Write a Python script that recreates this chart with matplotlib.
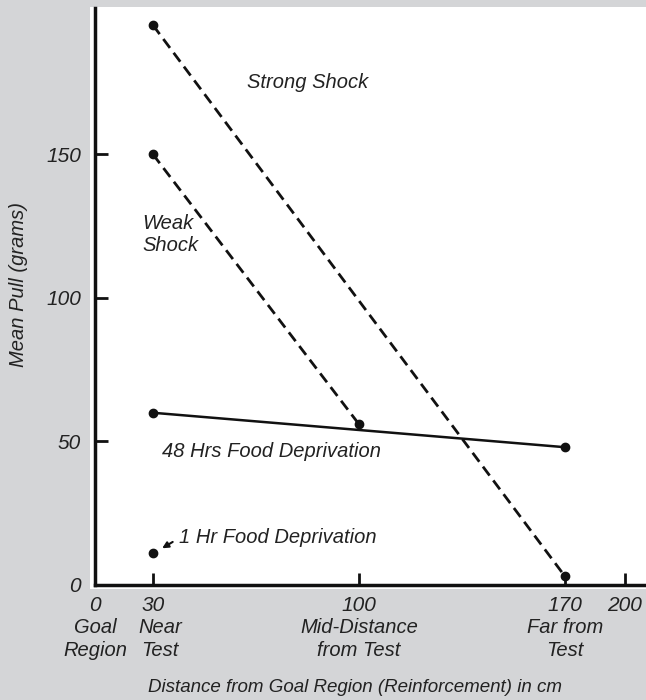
import numpy as np
import matplotlib
matplotlib.use("Agg")
import matplotlib.pyplot as plt
from matplotlib.patches import Rectangle

# data
strong_x = [30, 170]
strong_y = [195, 3]
weak_x = [30, 100]
weak_y = [150, 56]
food48_x = [30, 170]
food48_y = [60, 48]
food1_x = [30]
food1_y = [11]

xticks = [0, 30, 100, 170, 200]
yticks = [0, 50, 100, 150]
region_names = ["Goal\nRegion", "Near\nTest", "Mid-Distance\nfrom Test", "Far from\nTest"]
region_x = [0, 32.5, 100, 170]

# the x axis is not drawn to scale: the ends are compressed
brk_in = [-30, 0, 30, 170, 200, 260]
brk_out = [-60, 0, 58, 470, 530, 650]
def fwd(x):
    return np.interp(x, brk_in, brk_out)
def inv(x):
    return np.interp(x, brk_out, brk_in)

plt.rcParams['font.family'] = ['Liberation Sans', 'DejaVu Sans']
plt.rcParams['font.style'] = 'italic'
fs = 14.5
txt_col = '#222222'

fig = plt.figure(figsize=(6.46, 7.0), dpi=100)
fig.patch.set_facecolor('#d4d5d7')
# white panel behind the chart
fig.patches.append(Rectangle((90 / 646, 1 - 589 / 700), 1 - 90 / 646, (589 - 7) / 700,
                             transform=fig.transFigure, facecolor='white', edgecolor='none', zorder=-5))

ax = fig.add_axes([95 / 646, 1 - 585 / 700, 1 - 95 / 646, (585 - 8) / 700])
ax.set_zorder(2)
ax.patch.set_alpha(0)
ax.set_xscale('function', functions=(fwd, inv))
ax.set_xlim(0, 210.5)
ax.set_ylim(0, 201)

ax.spines['top'].set_visible(False)
ax.spines['right'].set_visible(False)
for s in ['left', 'bottom']:
    ax.spines[s].set_linewidth(2.5)
    ax.spines[s].set_color('#111111')

ax.set_xticks(xticks)
ax.set_yticks(yticks)
ax.tick_params(direction='in', length=9, width=2, colors='#111111', labelsize=15,
               labelcolor=txt_col, pad=10)
ax.tick_params(axis='x', pad=8)
ax.minorticks_off()

ax.plot(strong_x, strong_y, color='#111111', lw=2, ls=(0, (4, 2.2)), marker='o', ms=6, clip_on=False)
ax.plot(weak_x, weak_y, color='#111111', lw=2, ls=(0, (4, 2.2)), marker='o', ms=6, clip_on=False)
ax.plot(food48_x, food48_y, color='#111111', lw=1.8, marker='o', ms=6, clip_on=False)
ax.plot(food1_x, food1_y, color='#111111', ls='none', marker='o', ms=6, clip_on=False)

ax.text(62, 175, "Strong Shock", fontsize=fs, color=txt_col, va='center')
ax.text(24.5, 122, "Weak\nShock", fontsize=fs, color=txt_col, va='center', linespacing=1.2)
ax.text(33, 46.5, "48 Hrs Food Deprivation", fontsize=fs, color=txt_col, va='center')
ax.text(39, 16.4, "1 Hr Food Deprivation", fontsize=fs, color=txt_col, va='center')
ax.annotate("", xy=(32.3, 12.3), xytext=(37.5, 15.5),
            arrowprops=dict(arrowstyle='-|>', color='#111111', lw=1.5, mutation_scale=9))

trans = ax.get_xaxis_transform()
for xv, name in zip(region_x, region_names):
    ax.text(xv, -0.094, name, transform=trans, fontsize=fs, color=txt_col,
            ha='center', va='center', linespacing=1.3, clip_on=False)

ax.set_xlabel("Distance from Goal Region (Reinforcement) in cm", fontsize=13.5, color=txt_col)
ax.xaxis.set_label_coords(0.471, -0.163)
ax.set_ylabel("Mean Pull (grams)", fontsize=fs, color=txt_col)
ax.yaxis.set_label_coords(-0.122, 0.52)

fig.savefig("out.png", dpi=100, facecolor=fig.get_facecolor())
